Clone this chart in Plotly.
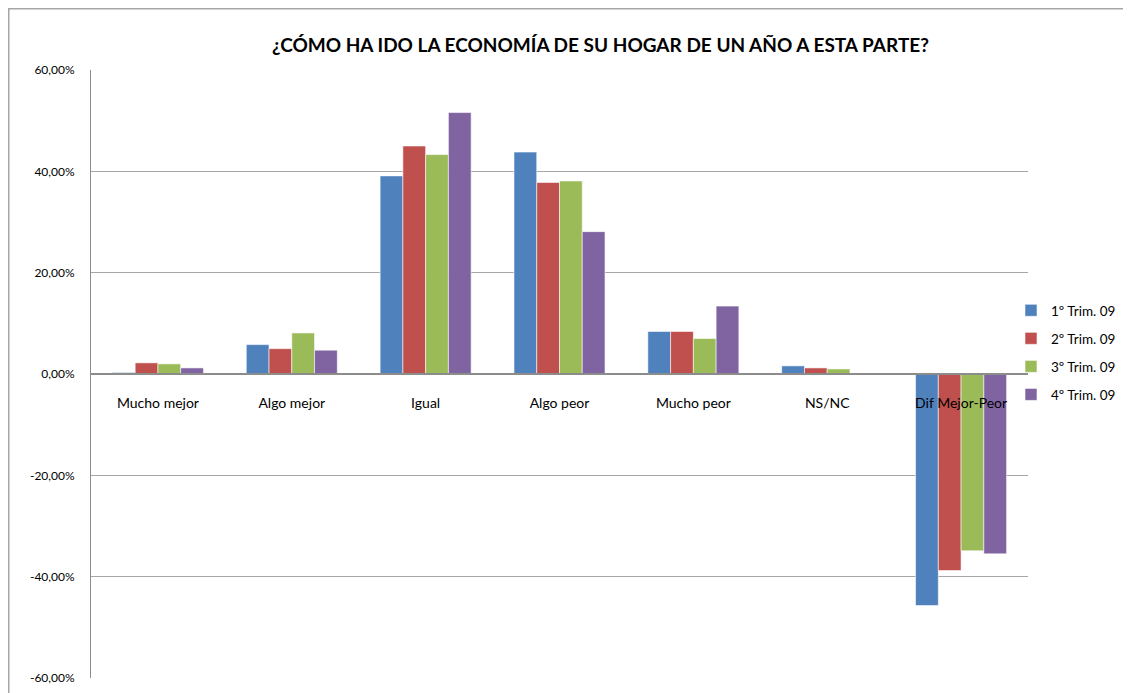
import plotly.graph_objects as go

categorias = ["Mucho mejor", "Algo mejor", "Igual", "Algo peor", "Mucho peor", "NS/NC", "Dif Mejor-Peor"]
trim1 = [0.3, 5.8, 39.1, 43.8, 8.4, 1.6, -45.7]
trim2 = [2.2, 5.0, 45.0, 37.8, 8.4, 1.2, -38.8]
trim3 = [2.0, 8.1, 43.3, 38.1, 7.0, 1.0, -34.9]
trim4 = [1.2, 4.7, 51.6, 28.1, 13.4, 0.0, -35.5]
series = [
    ("1º Trim. 09", trim1, "#4F81BD"),
    ("2º Trim. 09", trim2, "#C0504D"),
    ("3º Trim. 09", trim3, "#9BBB59"),
    ("4º Trim. 09", trim4, "#8064A2"),
]
y_ticks = [-60, -40, -20, 0, 20, 40, 60]
y_ticktext = ["-60,00%", "-40,00%", "-20,00%", "0,00%", "20,00%", "40,00%", "60,00%"]
titulo = "¿CÓMO HA IDO LA ECONOMÍA DE SU HOGAR DE UN AÑO A ESTA PARTE?"

FONT = "Lato"
# la página añade 8 px de margen al body: el lienzo se reduce y se compensa
W, H = 1123, 685
ML, MR, MT, MB = 83, 103, 62, 15
PW, PH = W - ML - MR, H - MT - MB

fig = go.Figure()
for i, (name, vals, color) in enumerate(series):
    fig.add_trace(
        go.Bar(
            x=categorias,
            y=vals,
            name=name,
            legendgroup=f"g{i}",
            marker=dict(color=color, line=dict(color="rgba(255,255,255,0.7)", width=0.8)),
        )
    )

fig.update_layout(
    width=W,
    height=H,
    margin=dict(l=ML, r=MR, t=MT, b=MB, autoexpand=False),
    paper_bgcolor="white",
    plot_bgcolor="white",
    barmode="group",
    bargap=0.32,
    bargroupgap=0,
    font=dict(family=FONT, size=12, color="black"),
    showlegend=True,
    legend=dict(
        x=1 - 17 / PW,
        xanchor="left",
        y=1 - (287 - MT) / PH,
        yanchor="top",
        tracegroupgap=7.5,
        font=dict(family=FONT, size=13.5, color="black"),
        itemwidth=30,
        bgcolor="rgba(0,0,0,0)",
    ),
    annotations=[
        dict(
            text=f"<b>{titulo}</b>",
            xref="paper",
            yref="paper",
            x=(592 - ML) / PW,
            y=1 + (MT - 37) / PH,
            xanchor="center",
            yanchor="middle",
            showarrow=False,
            font=dict(family=FONT, size=19, color="black"),
        )
    ],
    shapes=[
        dict(
            type="rect",
            xref="paper",
            yref="paper",
            x0=(0.75 - ML) / PW,
            x1=(W + 20 - ML) / PW,
            y0=-0.2,
            y1=1 + (MT - 0.75) / PH,
            line=dict(color="#A6A6A6", width=1.5),
            layer="below",
        )
    ],
)

fig.update_yaxes(
    range=[-60, 60],
    tickvals=y_ticks,
    ticktext=y_ticktext,
    showgrid=True,
    gridcolor="#A6A6A6",
    gridwidth=1,
    zeroline=False,
    showline=True,
    linecolor="#8C8C8C",
    linewidth=1,
    ticks="",
    ticklabelstandoff=13,
    tickfont=dict(family=FONT, size=12),
)
fig.update_xaxes(
    anchor="free",
    position=0.5,
    showline=True,
    linecolor="#8C8C8C",
    linewidth=1.5,
    showgrid=False,
    ticks="",
    ticklabelstandoff=16,
    tickfont=dict(family=FONT, size=14),
)

fig.write_html("out.html")
